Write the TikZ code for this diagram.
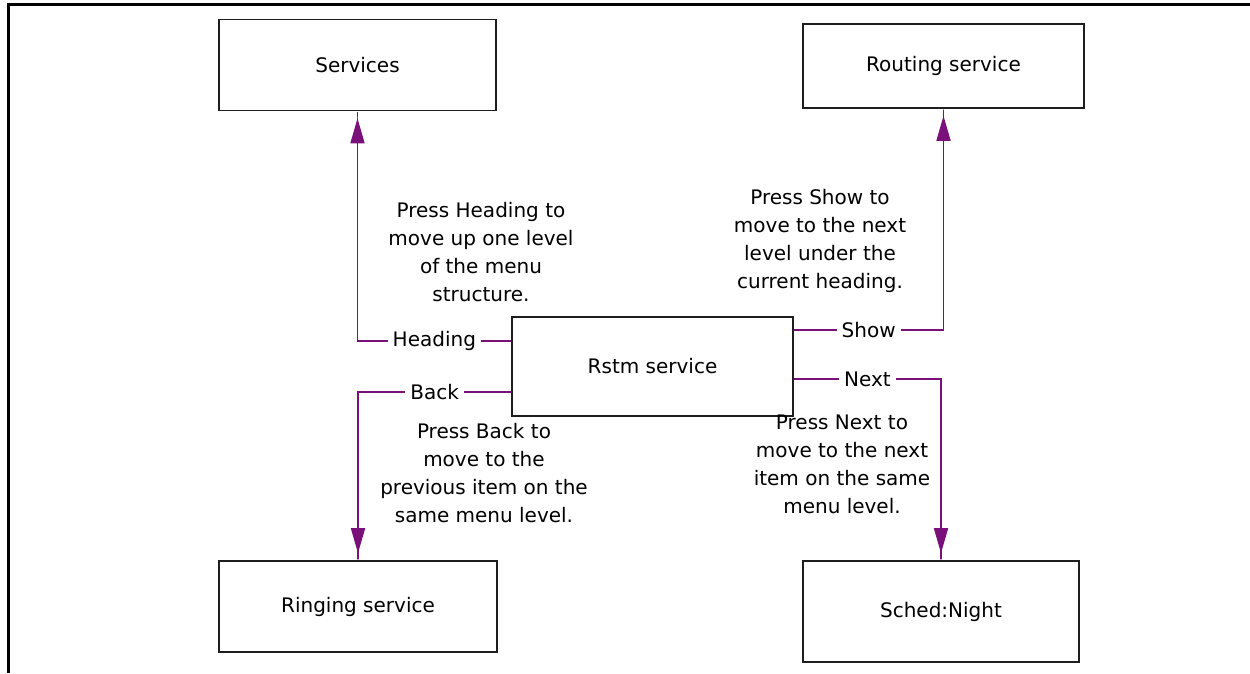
\documentclass[tikz,border=0pt]{standalone}
\usepackage{fontspec}
\setmainfont{DejaVu Sans}
\usetikzlibrary{arrows.meta}
\definecolor{connc}{RGB}{122,16,122}
\definecolor{boxc}{RGB}{30,30,30}
\tikzset{
  box/.style={draw=boxc, line width=1.6pt, inner sep=0pt, font=\fontsize{20}{28}\selectfont},
  conn/.style={draw=connc, line width=1.6pt,
    -{Triangle[width=14pt,length=25pt]Rectangle[width=1.6pt,length=7pt]}},
  lbl/.style={fill=white, inner sep=5pt, font=\fontsize{20}{28}\selectfont, text=black},
  note/.style={align=center, inner sep=0pt, font=\fontsize{20}{28}\selectfont}
}
\begin{document}
\begin{tikzpicture}[x=1pt,y=-1pt]
\useasboundingbox (0,0) rectangle (1250,673);
\draw[line width=3pt] (8.5,673) -- (8.5,4.5) -- (1250,4.5);

\node[box, minimum width=277pt, minimum height=91pt] (services) at (357.5,65) {Services};
\node[box, minimum width=281pt, minimum height=84pt] (routing) at (943.5,66) {Routing service};
\node[box, minimum width=281pt, minimum height=99pt] (rstm) at (652.5,366.5) {Rstm service};
\node[box, minimum width=278pt, minimum height=91pt] (ringing) at (358,606.5) {Ringing service};
\node[box, minimum width=276pt, minimum height=101pt] (sched) at (941,611.5) {Sched:Night};

\draw[conn] ([yshift=-25pt]rstm.north west) -| node[pos=0.25, lbl]{Heading} (services.south);
\draw[conn] ([yshift=-76pt]rstm.north west) -| node[pos=0.25, lbl]{Back} (ringing.north);
\draw[conn] ([yshift=-14pt]rstm.north east) -| node[pos=0.25, lbl]{Show} (routing.south);
\draw[conn] ([yshift=-63pt]rstm.north east) -| node[pos=0.25, lbl]{Next} (sched.north);

\node[note] (n1) at (481,252) {Press Heading to\\move up one level\\of the menu\\structure.};
\node[note] (n2) at (820,241) {Press Show to\\move to the next\\level under the\\current heading.};
\node[note] (n3) at (484,473.5) {Press Back to\\move to the\\previous item on the\\same menu level.};
\node[note] (n4) at (842,464.5) {Press Next to\\move to the next\\item on the same\\menu level.};
\end{tikzpicture}
\end{document}
